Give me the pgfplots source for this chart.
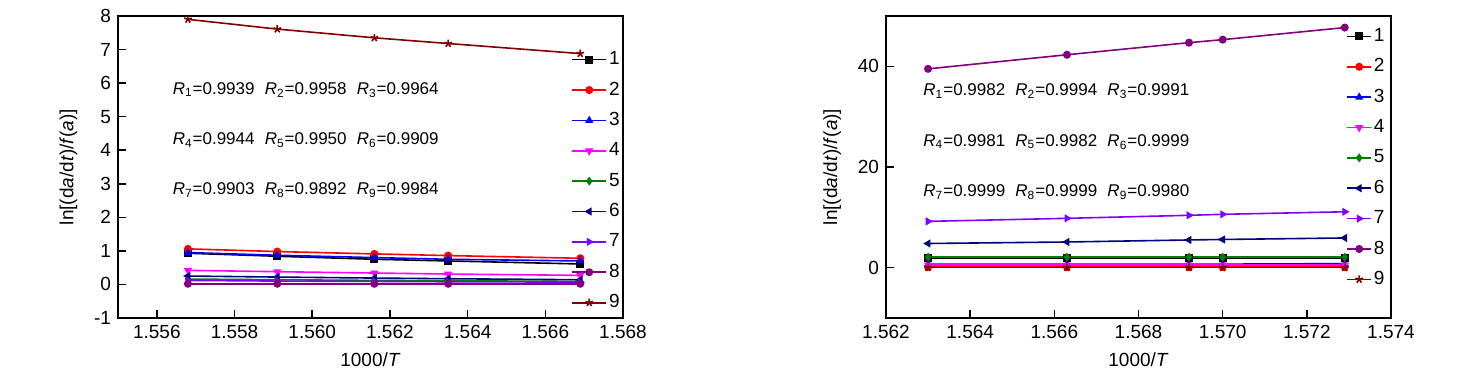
\documentclass[border=0pt]{standalone}
\usepackage{pgfplots}
\pgfplotsset{compat=1.18}
\usepackage{fontspec}
\setmainfont{Liberation Sans}
\definecolor{cA}{RGB}{0,0,0}
\definecolor{cB}{RGB}{255,0,0}
\definecolor{cC}{RGB}{0,0,255}
\definecolor{cD}{RGB}{255,0,255}
\definecolor{cE}{RGB}{0,128,0}
\definecolor{cF}{RGB}{0,0,128}
\definecolor{cG}{RGB}{128,0,255}
\definecolor{cH}{RGB}{128,0,128}
\definecolor{cI}{RGB}{128,0,0}
\newcommand{\Rv}[2]{\textit{R}\textsubscript{#1}=#2}
\newcommand{\gap}{\hspace{0.6em}}
\pgfplotsset{
  base/.style={
    scale only axis, width=252.5pt, height=151pt,
    axis line style={line width=1pt}, tick style={line width=0.8pt, black},
    tick align=inside, xtick pos=bottom, ytick pos=left,
    major tick length=4pt,
    /pgf/number format/assume math mode=true,
    tick label style={font=\fontsize{9.5}{11}\selectfont},
    label style={font=\fontsize{9.5}{11}\selectfont},
    xlabel={1000/\textit{T}},
    ylabel={ln[(d\textit{a}/d\textit{t})/\textit{f}(\textit{a})]},
    ylabel shift=1.5pt,
    scaled x ticks=false,
    xticklabel style={/pgf/number format/.cd, fixed, fixed zerofill, precision=3},
    legend cell align=left,
    legend style={draw=none, fill=none, anchor=north west, inner sep=0pt,
      row sep=5.1pt, font=\fontsize{9.5}{11}\selectfont,
      nodes={inner sep=1pt}},
    every axis plot/.append style={line width=0.8pt, mark size=1.6pt},
  },
  shortleg/.style={legend image code/.code={\draw[mark repeat=2,mark phase=2,##1] plot coordinates {(0cm,0cm) (0.21cm,0cm) (0.42cm,0cm)};}},
  s1/.style={color=cA, mark=square*},
  s2/.style={color=cB, mark=*},
  s3/.style={color=cC, mark=triangle*},
  s4/.style={color=cD, mark=triangle*, mark options={rotate=180}},
  s5/.style={color=cE, mark=diamond*},
  s6/.style={color=cF, mark=triangle*, mark options={rotate=90}},
  s7/.style={color=cG, mark=triangle*, mark options={rotate=270}},
  s8/.style={color=cH, mark=*},
  s9/.style={color=cI, mark=star, mark size=2pt},
}
\begin{document}
\begin{tikzpicture}
\useasboundingbox (0,0) rectangle (736pt,189pt);
\begin{axis}[base, at={(59pt,30pt)}, anchor=south west,
  xmin=1.555, xmax=1.568, ymin=-1, ymax=8,
  xtick={1.556,1.558,1.560,1.562,1.564,1.566,1.568},
  ytick={-1,0,1,2,3,4,5,6,7,8},
  legend style={at={(0.897,0.89)}},
  ]
\addplot[s1] coordinates {(1.5568,0.93) (1.5591,0.84) (1.5616,0.75) (1.5635,0.70) (1.5669,0.61)};
\addplot[s2] coordinates {(1.5568,1.06) (1.5591,0.98) (1.5616,0.91) (1.5635,0.86) (1.5669,0.78)};
\addplot[s3] coordinates {(1.5568,0.95) (1.5591,0.87) (1.5616,0.80) (1.5635,0.75) (1.5669,0.70)};
\addplot[s4] coordinates {(1.5568,0.42) (1.5591,0.38) (1.5616,0.34) (1.5635,0.31) (1.5669,0.27)};
\addplot[s5] coordinates {(1.5568,0.16) (1.5591,0.14) (1.5616,0.12) (1.5635,0.11) (1.5669,0.09)};
\addplot[s6] coordinates {(1.5568,0.25) (1.5591,0.22) (1.5616,0.19) (1.5635,0.17) (1.5669,0.14)};
\addplot[s7] coordinates {(1.5568,0.12) (1.5591,0.10) (1.5616,0.09) (1.5635,0.08) (1.5669,0.07)};
\addplot[s8] coordinates {(1.5568,0.02) (1.5591,0.02) (1.5616,0.02) (1.5635,0.02) (1.5669,0.02)};
\addplot[s9] coordinates {(1.5568,7.90) (1.5591,7.61) (1.5616,7.35) (1.5635,7.18) (1.5669,6.88)};
\legend{1,2,3,4,5,6,7,8,9}
\node[anchor=west, inner sep=0pt, font=\fontsize{8.5}{10}\selectfont] at (axis cs:1.5564,5.8) {\Rv{1}{0.9939}\gap\Rv{2}{0.9958}\gap\Rv{3}{0.9964}};
\node[anchor=west, inner sep=0pt, font=\fontsize{8.5}{10}\selectfont] at (axis cs:1.5564,4.3) {\Rv{4}{0.9944}\gap\Rv{5}{0.9950}\gap\Rv{6}{0.9909}};
\node[anchor=west, inner sep=0pt, font=\fontsize{8.5}{10}\selectfont] at (axis cs:1.5564,2.8) {\Rv{7}{0.9903}\gap\Rv{8}{0.9892}\gap\Rv{9}{0.9984}};
\end{axis}
\begin{axis}[base, shortleg, at={(443pt,30pt)}, anchor=south west,
  xmin=1.562, xmax=1.574, ymin=-10, ymax=50,
  xtick={1.562,1.564,1.566,1.568,1.570,1.572,1.574},
  ytick={0,20,40},
  legend style={at={(0.911,0.967)}},
  ]
\addplot[s1] coordinates {(1.5630,1.9) (1.5663,1.9) (1.5692,1.9) (1.5700,1.9) (1.5729,1.9)};
\addplot[s2] coordinates {(1.5630,0.1) (1.5663,0.1) (1.5692,0.1) (1.5700,0.1) (1.5729,0.1)};
\addplot[s3] coordinates {(1.5630,0.7) (1.5663,0.7) (1.5692,0.7) (1.5700,0.7) (1.5729,0.8)};
\addplot[s4] coordinates {(1.5630,0.5) (1.5663,0.5) (1.5692,0.5) (1.5700,0.5) (1.5729,0.5)};
\addplot[s5] coordinates {(1.5630,2.1) (1.5663,2.1) (1.5692,2.1) (1.5700,2.1) (1.5729,2.1)};
\addplot[s6] coordinates {(1.5630,4.8) (1.5663,5.1) (1.5692,5.5) (1.5700,5.6) (1.5729,5.9)};
\addplot[s7] coordinates {(1.5630,9.2) (1.5663,9.8) (1.5692,10.4) (1.5700,10.6) (1.5729,11.1)};
\addplot[s8] coordinates {(1.5630,39.5) (1.5663,42.3) (1.5692,44.7) (1.5700,45.3) (1.5729,47.7)};
\addplot[s9] coordinates {(1.5630,0.0) (1.5663,0.0) (1.5692,0.0) (1.5700,0.0) (1.5729,0.0)};
\legend{1,2,3,4,5,6,7,8,9}
\node[anchor=west, inner sep=0pt, font=\fontsize{8.5}{10}\selectfont] at (axis cs:1.56288,35) {\Rv{1}{0.9982}\gap\Rv{2}{0.9994}\gap\Rv{3}{0.9991}};
\node[anchor=west, inner sep=0pt, font=\fontsize{8.5}{10}\selectfont] at (axis cs:1.56288,25) {\Rv{4}{0.9981}\gap\Rv{5}{0.9982}\gap\Rv{6}{0.9999}};
\node[anchor=west, inner sep=0pt, font=\fontsize{8.5}{10}\selectfont] at (axis cs:1.56288,15) {\Rv{7}{0.9999}\gap\Rv{8}{0.9999}\gap\Rv{9}{0.9980}};
\end{axis}
\end{tikzpicture}
\end{document}
